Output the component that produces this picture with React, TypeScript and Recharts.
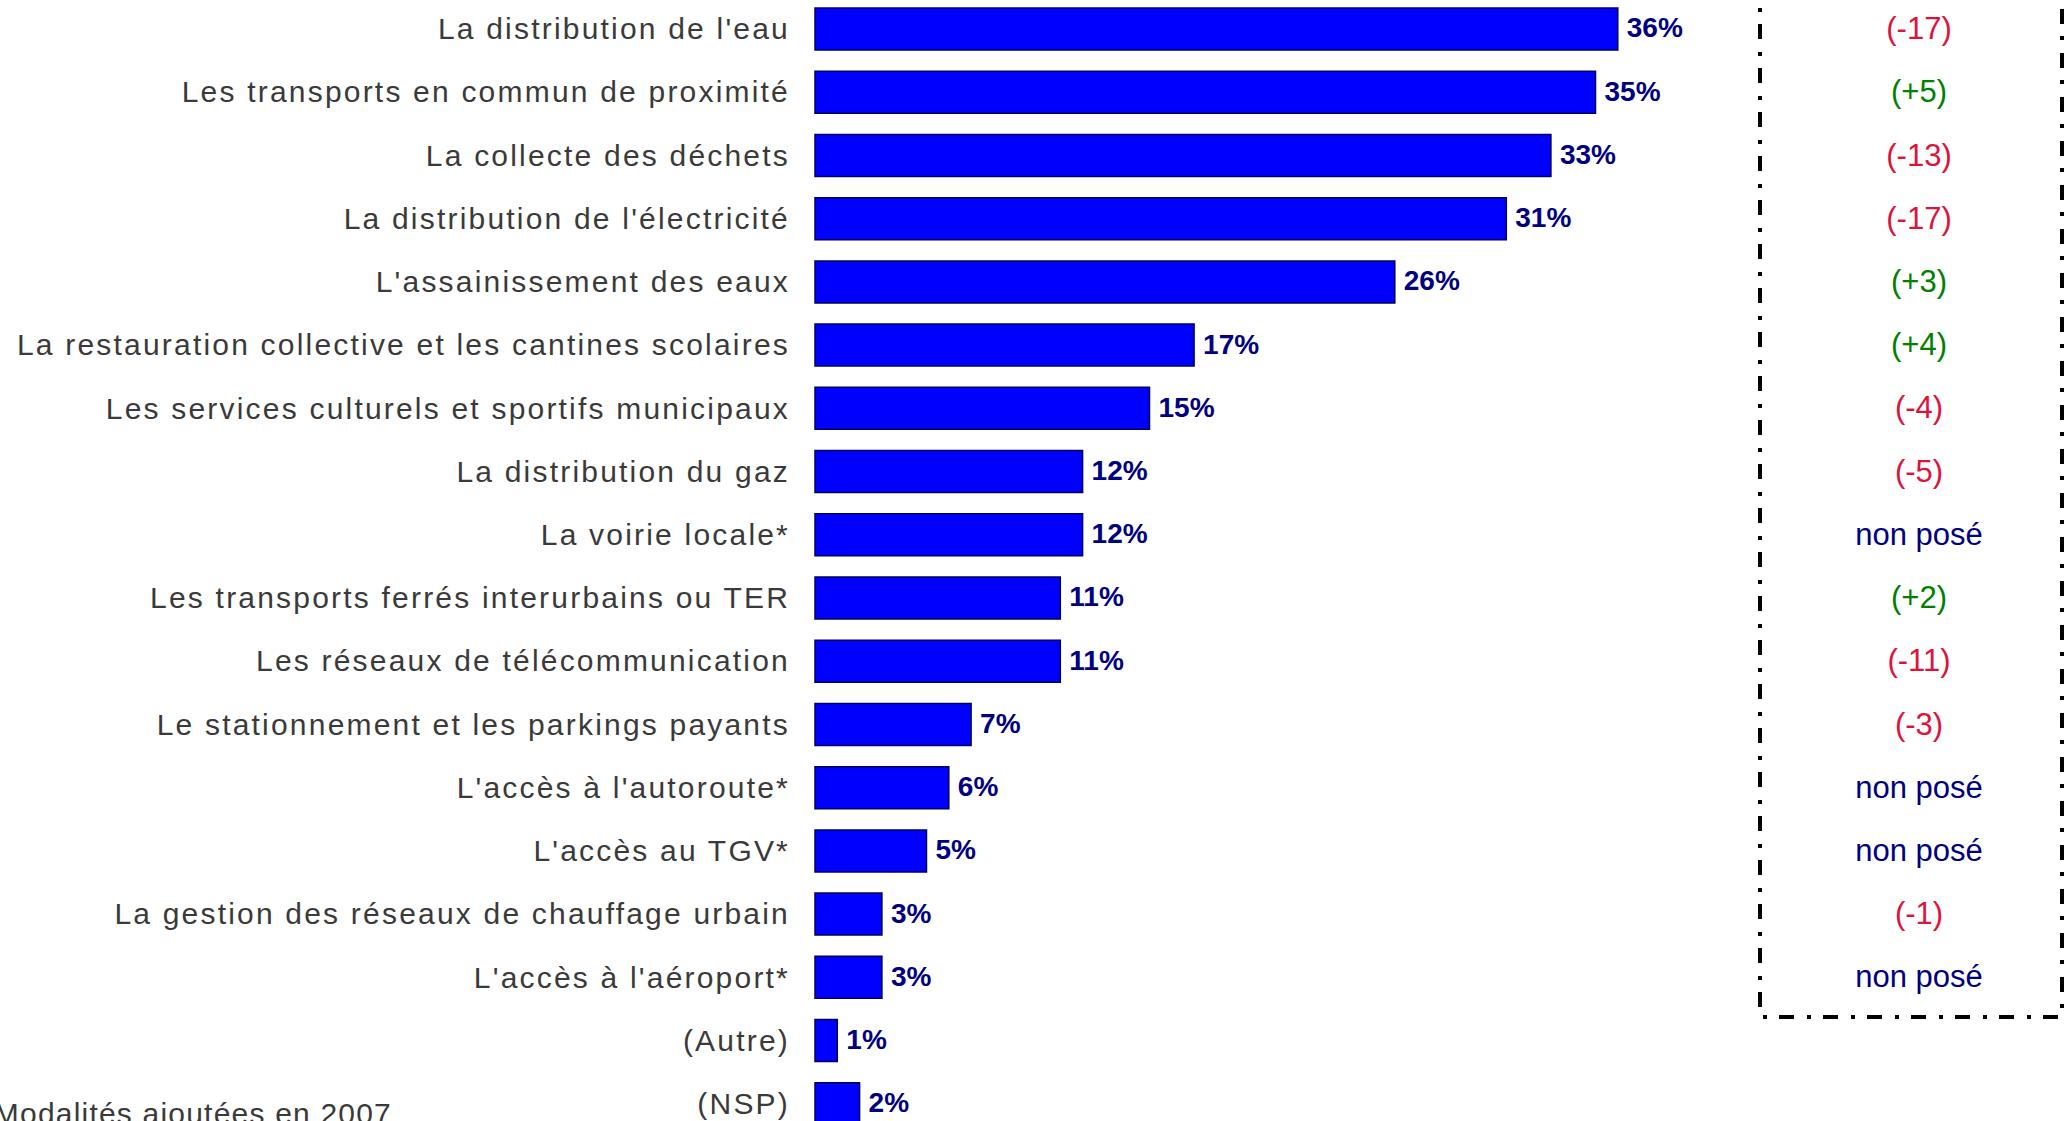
import React from "react";
import { BarChart, Bar, XAxis, YAxis, LabelList } from "recharts";

const categories = [
  "La distribution de l'eau",
  "Les transports en commun de proximité",
  "La collecte des déchets",
  "La distribution de l'électricité",
  "L'assainissement des eaux",
  "La restauration collective et les cantines scolaires",
  "Les services culturels et sportifs municipaux",
  "La distribution du gaz",
  "La voirie locale*",
  "Les transports ferrés interurbains ou TER",
  "Les réseaux de télécommunication",
  "Le stationnement et les parkings payants",
  "L'accès à l'autoroute*",
  "L'accès au TGV*",
  "La gestion des réseaux de chauffage urbain",
  "L'accès à l'aéroport*",
  "(Autre)",
  "(NSP)",
];

const values = [36, 35, 33, 31, 26, 17, 15, 12, 12, 11, 11, 7, 6, 5, 3, 3, 1, 2];

const changes = [
  "(-17)", "(+5)", "(-13)", "(-17)", "(+3)", "(+4)", "(-4)", "(-5)", "non posé",
  "(+2)", "(-11)", "(-3)", "non posé", "non posé", "(-1)", "non posé", "", "",
];

const footnote = "* Modalités ajoutées en 2007";

const data = categories.map((name, i) => ({ name, value: values[i], change: changes[i] }));

const FONT = "'Liberation Sans', Arial, sans-serif";

const changeColor = (c: string) => {
  if (c.startsWith("(-")) return "#DC143C";
  if (c.startsWith("(+")) return "#008000";
  return "#000080";
};

const LeftTick = (props: any) => {
  const { x, y, payload } = props;
  return (
    <text
      x={x}
      y={y}
      dy="0.355em"
      textAnchor="end"
      fontFamily={FONT}
      fontSize={30}
      letterSpacing={2.2}
      fill="#3a3a3a"
    >
      {payload.value}
    </text>
  );
};

const RightTick = (props: any) => {
  const { x, y, index } = props;
  const c = changes[index] ?? "";
  if (!c) return null;
  return (
    <text
      x={x}
      y={y}
      dy="0.34em"
      textAnchor="middle"
      fontFamily={FONT}
      fontSize={31}
      fill={changeColor(c)}
    >
      {c}
    </text>
  );
};

const ValueLabel = (props: any) => {
  const { x, y, width, height, value } = props;
  return (
    <text
      x={x + width + 9}
      y={y + height / 2}
      dy="0.3em"
      textAnchor="start"
      fontFamily={FONT}
      fontWeight="bold"
      fontSize={28}
      fill="#000080"
    >
      {value}%
    </text>
  );
};

export default function App() {
  return (
    <div
      style={{
        position: "absolute",
        left: 0,
        top: 0,
        width: 2064,
        height: 1121,
        overflow: "hidden",
        background: "#fff",
      }}
    >
      <div style={{ position: "absolute", left: 0, top: -3 }}>
        <BarChart
          width={2064}
          height={1138}
          data={data}
          layout="vertical"
          margin={{ top: 0, right: 0, bottom: 0, left: 0 }}
          barSize={42}
        >
          <XAxis type="number" domain={[0, 40]} hide />
          <YAxis
            yAxisId="left"
            type="category"
            dataKey="name"
            width={815}
            axisLine={false}
            tickLine={false}
            tickSize={0}
            tickMargin={25}
            interval={0}
            tick={<LeftTick />}
          />
          <YAxis
            yAxisId="right"
            orientation="right"
            type="category"
            dataKey="name"
            width={357}
            axisLine={false}
            tickLine={false}
            tickSize={0}
            tickMargin={212}
            interval={0}
            tick={<RightTick />}
          />
          <Bar
            yAxisId="left"
            dataKey="value"
            fill="#0000FF"
            stroke="#000060"
            strokeWidth={1.5}
            isAnimationActive={false}
          >
            <LabelList dataKey="value" content={<ValueLabel />} />
          </Bar>
        </BarChart>
      </div>
      <svg
        width={2064}
        height={1121}
        style={{ position: "absolute", left: 0, top: 0, pointerEvents: "none" }}
      >
        <path
          d="M 1760 -20 L 1760 1017 L 2062 1017 L 2062 -20"
          fill="none"
          stroke="#000"
          strokeWidth={4}
          strokeDasharray="15 13 4 12"
        />
        <text
          x={392}
          y={1124}
          textAnchor="end"
          fontFamily={FONT}
          fontSize={30}
          letterSpacing={1.2}
          fill="#3a3a3a"
        >
          {footnote}
        </text>
      </svg>
    </div>
  );
}
